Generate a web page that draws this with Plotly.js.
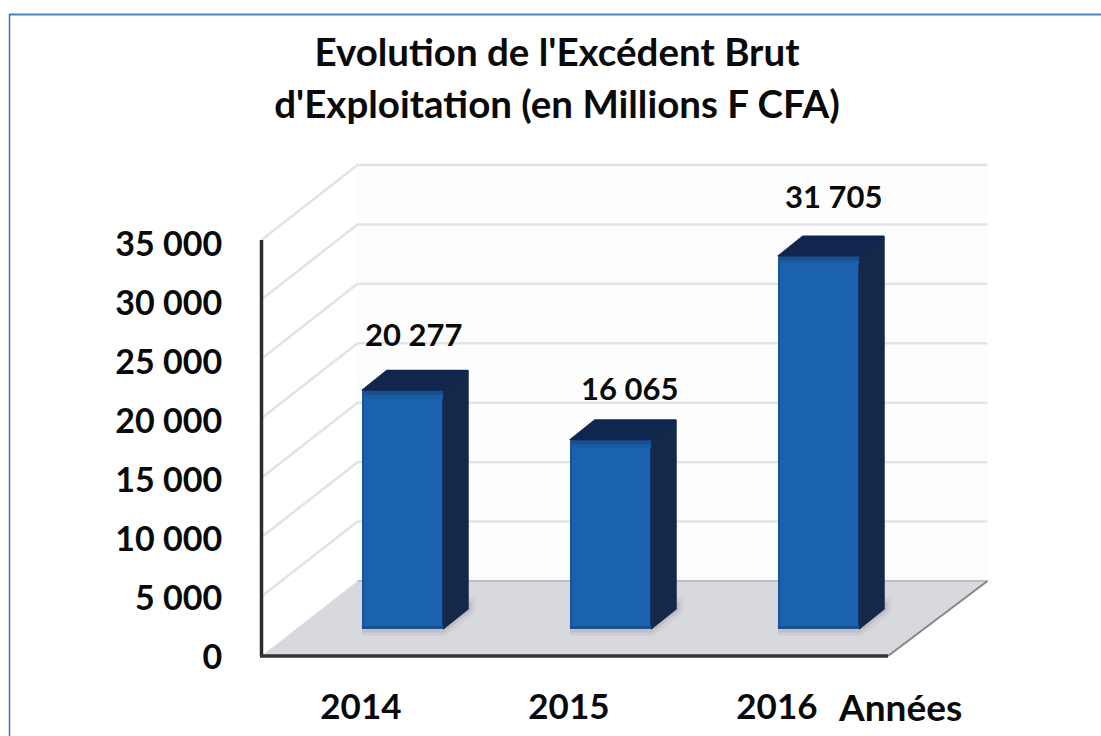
<!DOCTYPE html>
<html><head><meta charset="utf-8">
<script src="https://cdn.plot.ly/plotly-3.0.1.min.js"></script>
<style>html,body{margin:0;padding:0;background:#fff}#c{width:1101px;height:736px}</style>
</head><body><div id="c"></div>
<script>
// ---- data ----
const years = [2014, 2015, 2016];
const values = [20277, 16065, 31705];
const valueLabels = ['20 277', '16 065', '31 705'];
const tickValues = [0, 5000, 10000, 15000, 20000, 25000, 30000, 35000];
const tickLabels = ['0', '5 000', '10 000', '15 000', '20 000', '25 000', '30 000', '35 000'];
const titleText = "Evolution de l'Excédent Brut<br>d'Exploitation (en Millions F CFA)";
const unitLabel = 'Années';

// ---- geometry of the pseudo-3D frame ----
const W = 1101, H = 736;
const plotL = 256, plotR = 1000, plotT = 160, plotB = 658, baseY = 656, axisX = 261.5;
const pxPerYear = 208, x2014px = 402.5;
const pxToYear = p => 2014 + (p - x2014px) / pxPerYear;
const wallScale = 416 / 35000, barScale = 0.01175, barFootPx = 27;
const yMin = -(plotB - baseY) / wallScale, yMax = (baseY - plotT) / wallScale;
const y2Min = -(plotB - baseY + barFootPx) / barScale, y2Max = (baseY - barFootPx - plotT) / barScale;
const barW = 81 / pxPerYear;
const wallDx = 96 / pxPerYear, wallDy = 75 / wallScale;
const backL = pxToYear(axisX) + wallDx, frontR = pxToYear(888), backR = pxToYear(987.5);
const barDx = 25 / pxPerYear, barDy = 20 / barScale;
const labelShiftX = [-4, 4, 0], labelShiftY = [3, -2, 6];
const line = (x, y, color, width) => ({type:'scatter', mode:'lines', x, y, hoverinfo:'skip', showlegend:false,
  line:{color, width, simplify:false}});
const traces = [];

// wall tint + floor
traces.push({type:'scatter', mode:'lines', x:[backL, backR, backR, backL, backL], y:[wallDy, wallDy, 35000 + wallDy, 35000 + wallDy, wallDy],
  fill:'toself', fillcolor:'#fdfdfd', line:{width:0}, hoverinfo:'skip', showlegend:false});
// gridlines on both walls
tickValues.slice(1).forEach(v => {
  traces.push(line([pxToYear(axisX), backL, backR], [v, v + wallDy, v + wallDy], '#e3e3e3', 2.5));
});
traces.push({type:'scatter', mode:'lines', x:[pxToYear(axisX), frontR, backR, backL, pxToYear(axisX)], y:[0, 0, wallDy, wallDy, 0],
  fill:'toself', fillcolor:'#d8d9de', line:{width:0}, hoverinfo:'skip', showlegend:false});
traces.push(line([backL, backR], [wallDy, wallDy], '#bdbec2', 2));
traces.push(line([frontR, backR], [0, wallDy], '#85868a', 2));
// soft shadows of the columns on the floor
const footY = barFootPx / wallScale, footDy = 20 / wallScale;
[[14, 'rgba(120,120,130,0.10)'], [7, 'rgba(110,110,120,0.16)']].forEach(([w, c]) => {
  years.forEach(yr => {
    const l = yr - barW / 2, r = yr + barW / 2;
    traces.push({type:'scatter', mode:'lines', x:[l, r, r + barDx, r + barDx, l], y:[footY, footY, footY + footDy, footY + footDy + 300, footY],
      fill:'toself', fillcolor:c, line:{color:c, width:w}, hoverinfo:'skip', showlegend:false});
  });
});
// axes lines
traces.push(line([pxToYear(axisX), pxToYear(axisX)], [0, 35000], '#2c2c2c', 3.5));
traces.push(line([pxToYear(axisX - 1.5), frontR], [0, 0], '#333333', 3.5));

// columns: front faces
traces.push({type:'bar', x:years, y:values, yaxis:'y2', width:barW, marker:{color:'#1a62ad', line:{width:0}},
  hoverinfo:'x+y', showlegend:false});
// columns: side and top faces
const sx = [], sy = [], tx = [], ty = [];
years.forEach((yr, i) => {
  const r = yr + barW / 2, l = yr - barW / 2, v = values[i];
  sx.push(r, r + barDx, r + barDx, r, r, null);
  sy.push(0, barDy, v + barDy, v, 0, null);
  tx.push(l, l + barDx, r + barDx, r, l, null);
  ty.push(v, v + barDy, v + barDy, v, v, null);
});
traces.push({type:'scatter', mode:'lines', x:sx, y:sy, yaxis:'y2', fill:'toself', fillcolor:'#14294a',
  line:{color:'#14294a', width:1.5}, hoverinfo:'skip', showlegend:false});
traces.push({type:'scatter', mode:'lines', x:tx, y:ty, yaxis:'y2', fill:'toself', fillcolor:'#10264e',
  line:{color:'#10264e', width:2}, hoverinfo:'skip', showlegend:false});
// shaded edges of the front faces
years.forEach((yr, i) => {
  const l = yr - barW / 2, r = yr + barW / 2, v = values[i];
  traces.push(Object.assign(line([l, r], [v - 6 / barScale, v - 6 / barScale], '#1a5ca3', 4), {yaxis:'y2'}));
  traces.push(Object.assign(line([l, r], [v - 2 / barScale, v - 2 / barScale], '#194f8e', 4), {yaxis:'y2'}));
  traces.push(Object.assign(line([l + 1 / pxPerYear, l + 1 / pxPerYear], [0, v], '#175799', 2), {yaxis:'y2'}));
  traces.push(Object.assign(line([l, r], [1.5 / barScale, 1.5 / barScale], '#15528f', 3), {yaxis:'y2'}));
});

const font = 'Lato, "Open Sans", sans-serif';
const annotations = years.map((yr, i) => ({
  xref:'x', yref:'y2', x:yr, y:values[i], text:valueLabels[i], showarrow:false,
  xanchor:'center', yanchor:'middle', xshift:14.5 + labelShiftX[i], yshift:54 + labelShiftY[i],
  font:{family:font, size:31, color:'#0a0a0a', weight:700}
}));
annotations.push({xref:'paper', yref:'paper', x:900 / W, y:1 - 706 / H, text:unitLabel, showarrow:false,
  xanchor:'center', yanchor:'middle', font:{family:font, size:37, color:'#0a0a0a', weight:700}});

const layout = {
  width:W, height:H, margin:{l:0, r:0, t:0, b:0}, paper_bgcolor:'#fff', plot_bgcolor:'rgba(0,0,0,0)',
  showlegend:false, bargap:0,
  title:{text:titleText.split('<br>').map(s => '<span style="font-size:38.5px">' + s + '</span>').join('<br>'),
    x:557 / W, xanchor:'center', y:1 - 66 / H, yanchor:'middle', font:{family:font, size:40, color:'#0a0a0a', weight:700}},
  xaxis:{domain:[plotL / W, plotR / W], range:[pxToYear(plotL), pxToYear(plotR)], tickmode:'array',
    tickvals:years.map(y => y - 0.2), ticktext:years.map(String), showgrid:false, zeroline:false, showline:false,
    ticks:'outside', ticklen:18, tickcolor:'rgba(0,0,0,0)', tickfont:{family:font, size:35, color:'#0a0a0a', weight:700}},
  yaxis:{domain:[1 - plotB / H, 1 - plotT / H], range:[yMin, yMax], tickmode:'array', tickvals:tickValues.map(v => v * 0.9935 - 100), ticktext:tickLabels,
    showgrid:false, zeroline:false, showline:false, ticks:'outside', ticklen:26, tickcolor:'rgba(0,0,0,0)',
    tickfont:{family:font, size:34, color:'#0a0a0a', weight:700}},
  yaxis2:{domain:[1 - plotB / H, 1 - plotT / H], overlaying:'y', range:[y2Min, y2Max], visible:false},
  annotations,
  shapes:[
    {type:'line', xref:'paper', yref:'paper', x0:9 / W, x1:1, y0:1 - 14.5 / H, y1:1 - 14.5 / H, line:{color:'#4f7fc4', width:2}},
    {type:'line', xref:'paper', yref:'paper', x0:9.5 / W, x1:9.5 / W, y0:0, y1:1 - 14 / H, line:{color:'#4472c0', width:1.5}}
  ]
};
Plotly.newPlot('c', traces, layout, {displayModeBar:false, responsive:false});
</script></body></html>
